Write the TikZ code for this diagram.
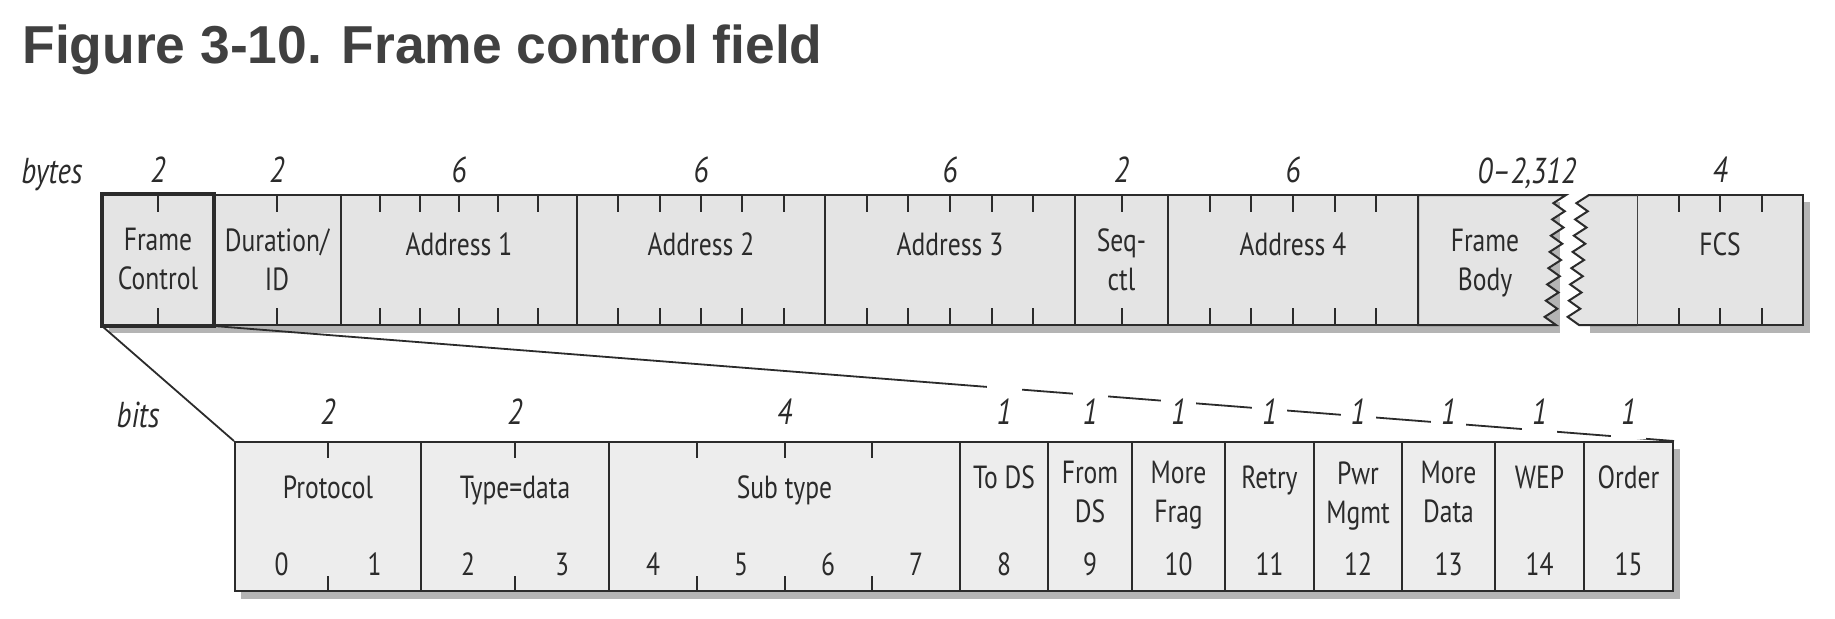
\documentclass[tikz,border=0pt]{standalone}
\usepackage{fontspec}
\usetikzlibrary{positioning,backgrounds}
\newfontfamily\condfont[FakeStretch=0.8]{PT Sans}
\newfontfamily\headfont{Liberation Sans}
\definecolor{ink}{HTML}{2B2B2B}
\definecolor{boxgray}{HTML}{E4E4E4}
\definecolor{bitgray}{HTML}{EDEDED}
\definecolor{shadowgray}{HTML}{B4B4B4}
\definecolor{titlegray}{HTML}{404040}
\tikzset{
  field/.style={draw=ink, line width=1pt, fill=boxgray, inner sep=0pt,
    minimum height=65pt, minimum width={(#1)*0.5pt}},
  bitfield/.style={field=#1, fill=bitgray, minimum height=74.5pt},
  fieldname/.style={text=ink, font=\condfont\fontsize{16}{19.5}\selectfont,
    align=center, inner sep=0pt, anchor=north, execute at begin node=\strut},
  sizelbl/.style={text=ink, font=\condfont\itshape\fontsize{18}{20}\selectfont,
    inner sep=0pt, anchor=base},
  bitsize/.style={sizelbl, fill=white, inner xsep=5pt, inner ysep=7pt},
  bitno/.style={text=ink, font=\condfont\fontsize{16}{19.5}\selectfont, anchor=base},
  tickmark/.style={draw=ink, line width=1pt}
}
\begin{document}
\begin{tikzpicture}[x=0.5pt, y=-0.5pt]
  \useasboundingbox (0,0) rectangle (1835,618);
  \node[anchor=base west, inner sep=0pt, text=titlegray,
    font=\headfont\bfseries\fontsize{26.7}{32}\selectfont] (title) at (22,63)
    {Figure 3-10. Frame control field};

  % shadows
  \begin{pgfonlayer}{background}
    \fill[shadowgray] (109,202) rectangle (1560,333);
    \fill[shadowgray] (1590,202) rectangle (1810,333);
    \fill[shadowgray] (241,449) rectangle (1680,599);
  \end{pgfonlayer}

  % byte row
  \node[sizelbl] (bytes) at (52,183) {bytes};
  \foreach \nm/\xa/\xb/\txt in {fc/103/213/{Frame\\Control}, dur/213/341/{Duration/\\ID},
      addra/341/577/Address 1, addrb/577/825/Address 2, addrc/825/1075/Address 3,
      seq/1075/1168/{Seq-\\ctl}, addrd/1168/1418/Address 4, fcs/1637/1803/FCS}
  {
    \node[field=\xb-\xa] (\nm) at ({(\xa+\xb)/2},260) {};
    \node[fieldname, below=17pt of \nm.north] (\nm-name) {\txt};
  }
  \draw[draw=ink, line width=1pt, fill=boxgray] (1418,195) -- (1566,195)
    \foreach \i in {1,...,16} { -- ({1566-10*\i/16-12*mod(\i,2)}, {195+130*\i/16}) }
    -- (1418,325) -- cycle;
  \draw[draw=ink, line width=1pt, fill=boxgray] (1637,195) -- (1589,195)
    \foreach \i in {1,...,16} { -- ({1589-10*\i/16-12*mod(\i,2)}, {195+130*\i/16}) }
    -- (1637,325);
  \node[fieldname] (body-name) at (1485,229) {Frame\\Body};
  \draw[ink, line width=1.8pt] (fc.north west) rectangle (fc.south east);
  \foreach \x in {158, 277, 380.3, 419.7, 459, 498.3, 537.7, 618.3, 659.7, 701, 742.3,
      783.7, 866.7, 908.3, 950, 991.7, 1033.3, 1121.5, 1209.7, 1251.3, 1293, 1334.7,
      1376.3, 1678.5, 1720, 1761.5}
  {
    \draw[tickmark] (\x,195) -- (\x,212);
    \draw[tickmark] (\x,325) -- (\x,308);
  }
  \foreach \nm/\n in {fc/2, dur/2, addra/6, addrb/6, addrc/6, seq/2, addrd/6, fcs/4}
    \node[sizelbl] (\nm-size) at ([yshift=6pt]\nm.north) {\n};
  \node[sizelbl] (body-size) at (1527,183) {0–2,312};

  % bit row
  \node[sizelbl] (bits) at (138,427) {bits};
  \foreach \nm/\xa/\xb in {proto/235/421, type/421/609, sub/609/960, tods/960/1048,
      fromds/1048/1132, morefrag/1132/1225, retry/1225/1314, pwr/1314/1402,
      moredata/1402/1495, wep/1495/1584, order/1584/1673}
    \node[bitfield=\xb-\xa] (\nm) at ({(\xa+\xb)/2},516.5) {};
  \foreach \nm/\txt in {proto/Protocol, type/Type=data, sub/Sub type}
    \node[fieldname, below=15pt of \nm.north] (\nm-name) {\txt};
  \foreach \nm/\txt in {tods/To DS, fromds/{From\\DS}, morefrag/{More\\Frag}, retry/Retry,
      pwr/{Pwr\\Mgmt}, moredata/{More\\Data}, wep/WEP, order/Order}
    \node[fieldname, below=10pt of \nm.north] (\nm-name) {\txt};
  \foreach \x in {328, 515, 696.75, 784.5, 872.25}
  {
    \draw[tickmark] (\x,442) -- (\x,458);
    \draw[tickmark] (\x,591) -- (\x,576);
  }
  \foreach \nm/\n in {proto/2, type/2, sub/4, tods/1, fromds/1, morefrag/1, retry/1,
      pwr/1, moredata/1, wep/1, order/1}
    \node[bitsize] (\nm-size) at ([yshift=8.25pt]\nm.north) {\n};
  \foreach \b/\x in {0/281.5, 1/374.5, 2/468, 3/562, 4/653, 5/741, 6/828, 7/916,
      8/1004, 9/1090, 10/1178.5, 11/1269.5, 12/1358, 13/1448.5, 14/1539.5, 15/1628.5}
    \node[bitno] (bit\b) at (\x,575) {\b};

  % expansion of frame control
  \begin{pgfonlayer}{background}
    \draw[ink, line width=0.9pt] (fc.south west) -- (proto.north west);
    \draw[ink, line width=0.9pt] (fc.south east) -- (order.north east);
  \end{pgfonlayer}
\end{tikzpicture}
\end{document}
